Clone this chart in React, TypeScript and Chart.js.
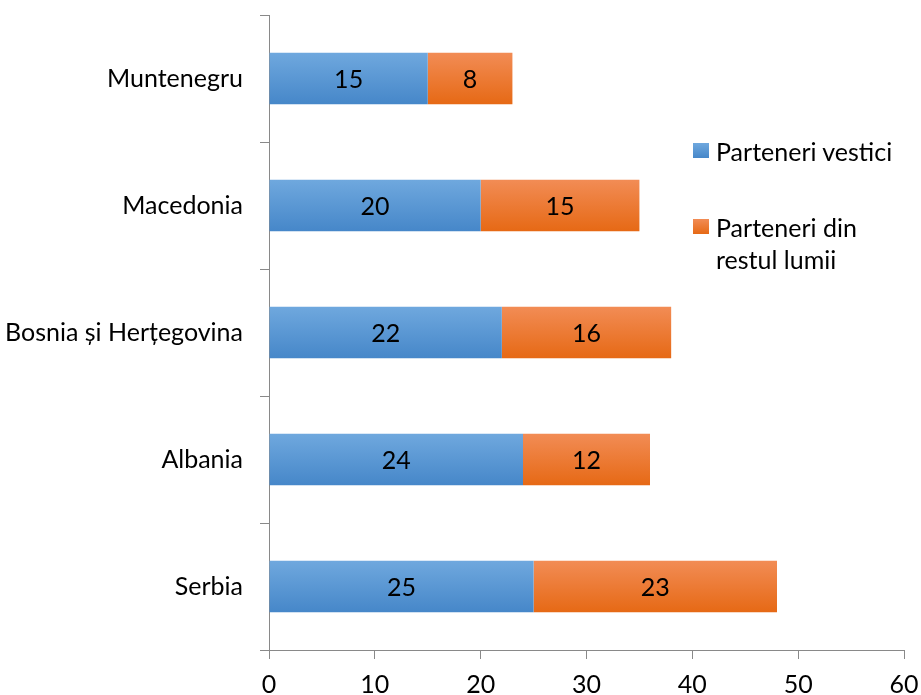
import React, { useEffect, useRef } from "react";
import { Chart, registerables } from "chart.js";

Chart.register(...registerables);

const categories = ["Muntenegru", "Macedonia", "Bosnia și Herțegovina", "Albania", "Serbia"];
const westernPartners = [15, 20, 22, 24, 25];
const restOfWorld = [8, 15, 16, 12, 23];
const seriesNames = ["Parteneri vestici", "Parteneri din restul lumii"];
const xTicksMax = 60;
const xTickStep = 10;

const FONT = "Lato";
const FS = 25;
const BAR_PCT = 0.405;

function gradientFill(top: string, bottom: string, fallback: string) {
  return (ctx: any) => {
    const chart = ctx.chart;
    const yScale = chart.scales?.y;
    if (!chart.chartArea || !yScale) return fallback;
    const center = yScale.getPixelForValue(ctx.dataIndex);
    const thick = ((yScale.bottom - yScale.top) / categories.length) * BAR_PCT;
    const g = chart.ctx.createLinearGradient(0, center - thick / 2, 0, center + thick / 2);
    g.addColorStop(0, top);
    g.addColorStop(1, bottom);
    return g;
  };
}

const labelPlugin = {
  id: "barValueLabels",
  afterDatasetsDraw(chart: any) {
    const ctx = chart.ctx;
    ctx.save();
    ctx.font = `${FS}px ${FONT}`;
    ctx.fillStyle = "#000";
    ctx.textAlign = "center";
    ctx.textBaseline = "middle";
    chart.data.datasets.forEach((ds: any, di: number) => {
      const meta = chart.getDatasetMeta(di);
      meta.data.forEach((el: any, i: number) => {
        const { x, base, y } = el.getProps(["x", "base", "y"], true);
        ctx.fillText(String(ds.data[i]), (x + base) / 2, y + 1);
      });
    });
    ctx.restore();
  },
};

export default function App() {
  const canvasRef = useRef<HTMLCanvasElement | null>(null);

  useEffect(() => {
    if (!canvasRef.current) return;
    const chart = new Chart(canvasRef.current, {
      type: "bar",
      data: {
        labels: categories,
        datasets: [
          {
            label: seriesNames[0],
            data: westernPartners,
            backgroundColor: gradientFill("#6fa8de", "#4687c9", "#5b9bd5"),
            borderWidth: 0,
            categoryPercentage: 1,
            barPercentage: BAR_PCT,
          },
          {
            label: seriesNames[1],
            data: restOfWorld,
            backgroundColor: gradientFill("#f28c55", "#e66915", "#ed7d31"),
            borderWidth: 0,
            categoryPercentage: 1,
            barPercentage: BAR_PCT,
          },
        ],
      },
      options: {
        indexAxis: "y",
        animation: false,
        responsive: true,
        maintainAspectRatio: false,
        layout: { padding: { top: 15, right: 17, left: 0, bottom: 0 } },
        plugins: { legend: { display: false }, tooltip: { enabled: false } },
        scales: {
          x: {
            stacked: true,
            min: 0,
            max: xTicksMax,
            ticks: {
              stepSize: xTickStep,
              color: "#000",
              font: { family: FONT, size: FS },
              padding: 11,
              maxRotation: 0,
            },
            grid: {
              drawOnChartArea: false,
              drawTicks: true,
              tickLength: 9,
              color: "#898989",
              lineWidth: 1,
            },
            border: { display: true, color: "#898989", width: 1 },
            afterFit: (s: any) => {
              s.height = 45;
              s.paddingLeft = 0;
              s.paddingRight = 0;
            },
          },
          y: {
            stacked: true,
            offset: true,
            ticks: {
              color: "#000",
              font: { family: FONT, size: FS },
              padding: 17,
            },
            grid: {
              offset: true,
              drawOnChartArea: false,
              drawTicks: true,
              tickLength: 9,
              color: "#898989",
              lineWidth: 1,
            },
            border: { display: true, color: "#898989", width: 1 },
            afterFit: (s: any) => {
              s.width = 269;
              s.paddingTop = 0;
              s.paddingBottom = 0;
            },
          },
        },
      },
      plugins: [labelPlugin],
    });
    return () => chart.destroy();
  }, []);

  const sq = (c1: string, c2: string): React.CSSProperties => ({
    position: "absolute",
    left: 0,
    top: 0,
    width: 16,
    height: 15,
    background: `linear-gradient(${c1}, ${c2})`,
  });

  return (
    <div style={{ position: "absolute", left: 0, top: 0, width: 921, height: 695, background: "#fff" }}>
      <canvas ref={canvasRef} />
      <div
        style={{
          position: "absolute",
          left: 693,
          top: 135,
          fontFamily: FONT,
          fontSize: FS,
          lineHeight: "32px",
          color: "#000",
        }}
      >
        <div style={{ position: "relative", height: 32 }}>
          <div style={{ ...sq("#6fa8de", "#4687c9"), top: 8 }} />
          <div style={{ position: "absolute", left: 23, top: 0, whiteSpace: "nowrap" }}>{seriesNames[0]}</div>
        </div>
        <div style={{ position: "relative", marginTop: 44 }}>
          <div style={{ ...sq("#f28c55", "#e66915"), top: 8 }} />
          <div style={{ marginLeft: 23, width: 180 }}>
            Parteneri din
            <br />
            restul lumii
          </div>
        </div>
      </div>
    </div>
  );
}
